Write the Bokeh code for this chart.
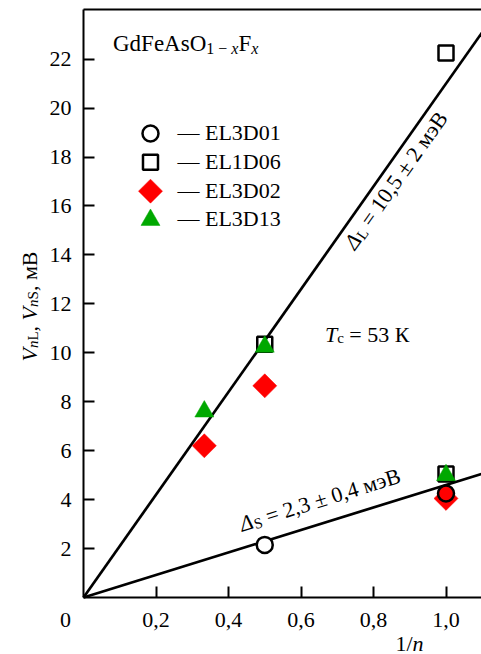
import math
from bokeh.plotting import figure
from bokeh.models import Label, Range1d, FixedTicker, LinearAxis
from bokeh.embed import file_html
from bokeh.resources import INLINE

# ---------------- data ----------------
inv_n_EL3D01 = [0.5, 1.0]
V_EL3D01 = [2.15, 4.25]

inv_n_EL1D06 = [0.5, 1.0, 1.0]
V_EL1D06 = [10.35, 22.25, 5.05]

inv_n_EL3D02 = [1 / 3, 0.5, 1.0]
V_EL3D02 = [6.2, 8.65, 4.05]

inv_n_EL3D13 = [1 / 3, 0.5, 1.0]
V_EL3D13 = [7.6, 10.25, 5.0]

delta_L = 10.5   # meV, slope of V = 2*Delta/n
delta_S = 2.3
fit_x = [0.0, 1.1]

x_ticks = [0.2, 0.4, 0.6, 0.8, 1.0]
x_tick_labels = ["0,2", "0,4", "0,6", "0,8", "1,0"]
y_ticks = [2, 4, 6, 8, 10, 12, 14, 16, 18, 20, 22]

series_labels = ["— EL3D01", "— EL1D06", "— EL3D02", "— EL3D13"]

# ---------------- styles / layout ----------------
FONT = "Liberation Serif"
GREEN = "#00A800"
RED = "#FF0000"
circle_fill = ["white", RED]

W_CANVAS, H_CANVAS = 481, 654
PAD_L, PAD_B, PAD_T = 83, 57, 9                 # plot-box margins in px
PX_X, PX_Y = 362.5, 24.47                       # pixels per data unit
X_END = (W_CANVAS - PAD_L) / PX_X               # right edge of the box
Y_TOP = (H_CANVAS - PAD_B - PAD_T) / PX_Y       # top edge of the box
BASE_FIX = 8.5                                  # label baseline correction, px

p = figure(
    output_backend="svg", toolbar_location=None,
    width=W_CANVAS, height=H_CANVAS,
    min_border_left=0, min_border_right=0, min_border_top=0, min_border_bottom=0,
    x_range=Range1d(-PAD_L / PX_X, X_END),
    y_range=Range1d(-PAD_B / PX_Y, Y_TOP + PAD_T / PX_Y),
    x_axis_type=None, y_axis_type=None,
    background_fill_color="white", border_fill_color="white",
)
p.grid.visible = False
p.outline_line_color = None


def style_axis(ax):
    ax.axis_line_width = 2
    ax.axis_line_color = "black"
    ax.major_tick_line_width = 2
    ax.major_tick_in = 11
    ax.major_tick_out = 0
    ax.minor_tick_line_color = None
    ax.major_label_text_font = FONT
    ax.major_label_text_font_size = "22px"
    ax.major_label_text_color = "black"
    return ax


xaxis = style_axis(LinearAxis(fixed_location=0, bounds=(0, X_END),
                              ticker=FixedTicker(ticks=x_ticks)))
xaxis.major_label_overrides = {t: l for t, l in zip(x_ticks, x_tick_labels)}
xaxis.major_label_standoff = 15
p.add_layout(xaxis, "below")

yaxis = style_axis(LinearAxis(fixed_location=0, bounds=(0, Y_TOP),
                              ticker=FixedTicker(ticks=y_ticks)))
yaxis.major_label_standoff = 12
p.add_layout(yaxis, "left")

topaxis = style_axis(LinearAxis(fixed_location=Y_TOP, bounds=(0, X_END),
                                ticker=FixedTicker(ticks=[])))
topaxis.major_label_text_alpha = 0
p.add_layout(topaxis, "above")

# fitted lines V = 2*Delta/n
p.line(fit_x, [2 * delta_L * x for x in fit_x], line_color="black", line_width=2.7)
p.line(fit_x, [2 * delta_S * x for x in fit_x], line_color="black", line_width=2.7)

SQ = dict(marker="square", size=15, fill_color="white", fill_alpha=0,
          line_color="black", line_width=2.5)
TR = dict(marker="triangle", size=19, fill_color=GREEN, line_color=GREEN, line_width=0.5)
DI = dict(marker="square", size=17, angle=math.pi / 4, fill_color=RED,
          line_color=RED, line_width=0.5)
CI = dict(marker="circle", size=16, line_color="black", line_width=2.5)

p.scatter(inv_n_EL1D06, V_EL1D06, **SQ)
p.scatter(inv_n_EL3D13, V_EL3D13, **TR)
p.scatter(inv_n_EL3D02, V_EL3D02, **DI)
p.scatter(inv_n_EL3D01, V_EL3D01, fill_color=circle_fill, **CI)

# ---------------- legend (key column + labels) ----------------
LEG_X, LEG_Y0, LEG_PITCH = 0.1848, 18.96, 28.8 / PX_Y
LEG_TX = 0.2593
key_styles = [dict(fill_color="white", **CI), SQ, DI, TR]
for i, (lab, st) in enumerate(zip(series_labels, key_styles)):
    ky = LEG_Y0 - i * LEG_PITCH
    p.scatter([LEG_X], [ky], **st)
    p.add_layout(Label(x=LEG_TX, y=ky, y_offset=-7.5 + BASE_FIX, text=lab, text_font=FONT,
                       text_font_size="22px", text_color="black",
                       text_align="left", text_baseline="alphabetic"))

# -------- composed texts (runs with subscripts) --------
W = {" ": .25, ",": .25, "=": .564, "±": .564, "−": .564, "/": .278, "—": 1.0,
     "0": .5, "1": .5, "2": .5, "3": .5, "4": .5, "5": .5, "6": .5, "7": .5, "8": .5, "9": .5,
     "A": .722, "B": .667, "D": .722, "E": .611, "F": .556, "G": .722, "L": .611,
     "O": .722, "S": .556, "T": .611, "V": .722, "c": .444, "d": .5, "e": .444,
     "n": .5, "s": .389, "x": .5, "Δ": .612, "м": .635, "э": .444, "В": .667, "К": .667}
WI = {"T": .556, "V": .611, "n": .5, "x": .444, "Δ": .612}


def width(text, size, style):
    tab = WI if style == "italic" else W
    return sum(tab.get(ch, W.get(ch, .5)) for ch in text) * size


def compose(x, y, angle_deg, runs, fix=BASE_FIX):
    th = math.radians(angle_deg)
    c, s = math.cos(th), math.sin(th)
    adv = 0.0
    for text, size, style, shift in runs:
        lead = len(text) - len(text.lstrip(" "))
        adv += lead * W[" "] * size
        text = text.lstrip(" ")
        sh = shift - fix
        ox = adv * c + sh * s
        oy = adv * s - sh * c
        p.add_layout(Label(x=x, y=y, x_offset=ox, y_offset=oy, text=text, angle=th,
                           text_font=FONT, text_font_size=f"{size}px",
                           text_font_style=style, text_color="black",
                           text_align="left", text_baseline="alphabetic"))
        adv += width(text, size, style)


BIG, SUB = 22, 15
# title
compose(0.0814, 22.3, 0, [("GdFeAsO", 23, "normal", 0), ("1 − ", 16, "normal", 5),
                          ("x", 16, "italic", 5), ("F", 23, "normal", 0),
                          ("x", 16, "italic", 5)])
# Delta_L along the large-gap line
ang_L = math.degrees(math.atan(2 * delta_L * PX_Y / PX_X))
compose(0.732, 14.34, ang_L, [("Δ", BIG, "italic", 0), ("L", SUB, "normal", 4),
                              (" = 10,5 ± 2 мэВ", BIG, "normal", 0)], fix=0)
# Delta_S along the small-gap line
ang_S = math.degrees(math.atan(2 * delta_S * PX_Y / PX_X))
compose(0.432, 2.98, ang_S, [("Δ", BIG, "italic", 0), ("S", SUB, "normal", 4),
                             (" = 2,3 ± 0,4 мэВ", BIG, "normal", 0)], fix=0)
# Tc
compose(0.666, 10.42, 0, [("T", BIG, "italic", 0), ("c", SUB, "normal", 4),
                          (" = 53 К", BIG, "normal", 0)])
# y axis title
compose(-46 / PX_X, 236 / PX_Y, 90,
        [("V", BIG, "italic", 0), ("n", SUB, "italic", 4),
         ("L", SUB, "normal", 4), (", ", BIG, "normal", 0),
         ("V", BIG, "italic", 0), ("n", SUB, "italic", 4),
         ("S", SUB, "normal", 4), (", мВ", BIG, "normal", 0)])
# x axis title
compose(312 / PX_X, -54 / PX_Y, 0, [("1/", BIG, "normal", 0), ("n", BIG, "italic", 0)])
# origin label
p.add_layout(Label(x=-18 / PX_X, y=-31 / PX_Y, y_offset=BASE_FIX, text="0",
                   text_font=FONT, text_font_size="22px", text_align="center",
                   text_baseline="alphabetic", text_color="black"))

open("out.html", "w").write(file_html(p, INLINE))
